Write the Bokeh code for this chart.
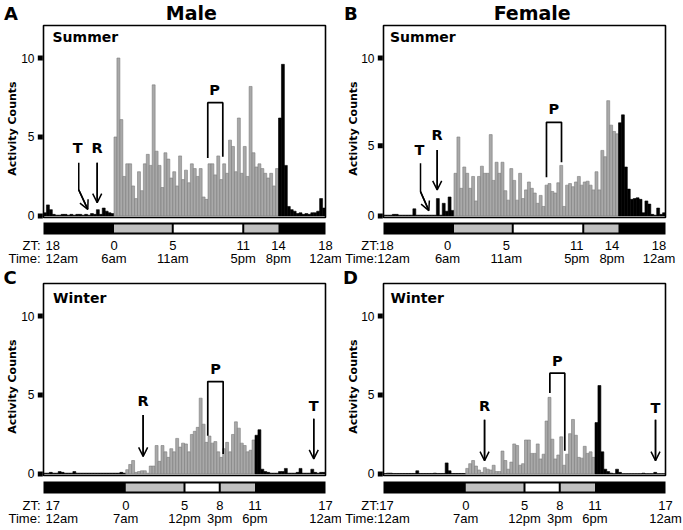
import math
from bokeh.plotting import figure
from bokeh.layouts import column, row
from bokeh.models import Range1d, Arrow, OpenHead, ColumnDataSource
from bokeh.embed import file_html
from bokeh.resources import INLINE
from bokeh.core.properties import value

# ---------------- data (15-min bins, activity counts) ----------------
BIN = 0.25

# A: male, summer (ZT -6 .. 18)
a_night = [0.2, 0.7, 0.4, 0.1, 0.05, 0.05, 0.1, 0.1, 0.05, 0.1, 0.05, 0.1, 0.1, 0.05, 0.1, 0.05,
           0.15, 0.1, 0.4, 0.1, 0.5, 0.3, 0.2, 0.15]
a_day = [5.0, 10.0, 6.1, 2.5, 3.3, 3.3, 1.9, 1.1, 2.8, 1.6, 3.3, 3.9, 3.2, 8.3, 4.1, 3.2, 1.8, 4.0,
         3.6, 2.4, 2.8, 1.9, 3.8, 2.3, 2.9, 2.1, 3.3, 3.0, 2.5, 3.0, 1.2, 1.05, 3.3, 3.3, 2.6, 3.8,
         2.3, 3.3, 2.7, 4.8, 4.4, 2.8, 6.2, 2.7, 4.4, 2.5, 8.2, 4.0, 3.1, 3.3, 3.0, 2.7, 2.4, 2.7,
         1.9, 3.0]
a_eve = [6.2, 9.6, 3.2, 0.6, 0.4, 0.3, 0.15, 0.2, 0.1, 0.15, 0.1, 0.2, 0.2, 0.3, 1.1, 0.5]

# B: female, summer (ZT -6 .. 18)
b_night = [0.05, 0.05, 0.05, 0.1, 0.1, 0.05, 0.05, 0.05, 0.05, 0.05, 0.45, 0.05, 0.05, 0.05, 0.05,
           0.05, 0.05, 0.05, 1.1, 0.05, 0.8, 0.3, 1.2, 0.35]
b_day = [2.7, 5.0, 1.75, 3.1, 2.7, 1.75, 2.5, 0.95, 2.5, 3.15, 2.7, 2.7, 5.15, 2.25, 3.4, 2.7, 3.4,
         1.6, 1.0, 3.0, 2.25, 1.0, 2.7, 1.1, 1.65, 2.15, 1.75, 1.45, 0.8, 1.3, 0.6, 1.95, 2.05,
         1.55, 1.45, 2.1, 3.2, 0.6, 1.95, 2.05, 1.85, 2.15, 2.5, 1.95, 2.15, 2.2, 1.95, 1.65, 2.8,
         1.65, 4.15, 3.75, 7.3, 5.75, 5.35, 5.2]
b_eve = [5.9, 6.4, 3.1, 1.7, 1.05, 1.1, 1.15, 1.05, 0.2, 0.95, 0.75, 0.1, 0.05, 0.5, 0.1, 0.2]

# C: male, winter (ZT -7 .. 17)
c_night = [0.05, 0.05, 0.1, 0.05, 0.05, 0.15, 0.1, 0.05, 0.05, 0.05, 0.15, 0.05, 0.05, 0.05, 0.05,
           0.05, 0.05, 0.05, 0.05, 0.05, 0.05, 0.05, 0.05, 0.05, 0.05, 0.05, 0.1, 0.05]
c_day = [0.27, 0.6, 0.85, 0.1, 0.15, 0.2, 0.2, 0.05, 0.5, 0.5, 1.8, 0.8, 1.8, 1.4, 1.05, 1.6, 1.4,
         2.25, 1.7, 1.95, 1.9, 1.4, 2.5, 2.7, 2.95, 4.8, 3.15, 2.0, 2.4, 1.95, 2.05, 1.4, 1.05,
         1.6, 2.0, 1.4, 2.5, 3.3, 2.9, 1.95, 1.8, 1.4, 1.5, 2.15]
c_eve = [2.45, 2.8, 0.3, 0.15, 0.1, 0.05, 0.05, 0.05, 0.15, 0.15, 0.35, 0.05, 0.05, 0.05, 0.1, 0.35,
         0.05, 0.05, 0.05, 0.3, 0.1, 0.05, 0.1, 0.1]

# D: female, winter (ZT -7 .. 17)
d_night = [0.03, 0.05, 0.05, 0.03, 0.03, 0.03, 0.03, 0.03, 0.03, 0.03, 0.03, 0.2, 0.03, 0.03, 0.03,
           0.03, 0.03, 0.05, 0.03, 0.03, 0.03, 0.7, 0.2, 0.03, 0.03, 0.03, 0.03, 0.03]
d_day = [0.35, 0.65, 0.85, 0.5, 0.25, 0.1, 0.4, 0.3, 0.25, 0.55, 0.15, 0.15, 1.45, 0.85, 0.3, 0.75,
         1.9, 1.8, 0.55, 0.65, 2.15, 2.15, 1.3, 1.3, 1.9, 0.95, 1.25, 3.35, 4.85, 2.2, 0.95, 1.2,
         2.35, 0.55, 1.25, 2.55, 3.45, 2.45, 1.05, 1.0, 1.75, 1.3, 1.4, 1.05]
d_eve = [3.25, 5.6, 1.4, 0.3, 0.15, 0.05, 0.02, 0.3, 0.1, 0.02, 0.02, 0.02, 0.02, 0.02, 0.02, 0.02,
         0.05, 0.02, 0.02, 0.02, 0.1, 0.02, 0.02, 0.02]

# light schedule strips (ZT)
summer_seg_start = [0, 5, 11]
summer_seg_end = [5, 11, 14]
winter_seg_start = [0, 5, 8]
winter_seg_end = [5, 8, 11]
seg_kind = ["twilight", "light", "twilight"]

# tick labels
y_ticks = [0, 5, 10]
y_tick_labels = ["0", "5", "10"]
summer_zt = [-6, 0, 5, 11, 14, 18]
summer_zt_labels = ["18", "0", "5", "11", "14", "18"]
summer_time_labels = ["12am", "6am", "11am", "5pm", "8pm", "12am"]
winter_zt = [-7, 0, 5, 8, 11, 17]
winter_zt_labels = ["17", "0", "5", "8", "11", "17"]
winter_time_labels = ["12am", "7am", "12pm", "3pm", "6pm", "12am"]

# ---------------- styles ----------------
PPH = 282 / 24.0            # pixels per hour
PPU = 15.8                  # pixels per count
Y0, Y1 = -0.1, 12.06        # box limits (counts)
GRAY = "#a9a9a9"
GRAYLINE = "#7c7c7c"
STRIPGRAY = "#c0c0c0"
SANS = "Liberation Sans"
BOLD = "DejaVu Sans"


def make_panel(cfg, night, day, eve, seg_s, seg_e, zt, ztl, tml):
    W, H = cfg["w"], 265
    bl, bt = cfg["box_left"], cfg["box_top"]          # box position in panel pixels
    br, bb = bl + 282, bt + 192
    xmin, xmax = cfg["xmin"], cfg["xmax"]
    px = lambda d: d / PPH          # pixel distance -> hours
    py = lambda d: d / PPU          # pixel distance -> counts

    p = figure(width=W, height=H,
               x_range=Range1d(xmin - px(bl), xmax + px(W - br)),
               y_range=Range1d(Y0 - py(H - bb), Y1 + py(bt)),
               x_axis_location=None, y_axis_location=None, toolbar_location=None,
               output_backend="svg", tools="", min_border_left=0, min_border_right=0,
               min_border_top=0, min_border_bottom=0, outline_line_color=None)
    p.grid.visible = False

    def txt(x, y, t, font=SANS, size="13px", bold=False, align="center", angle=0.0):
        p.text(x=x, y=y, text=t, text_font=value(font), text_font_size=size,
               text_font_style="bold" if bold else "normal", text_align=align,
               text_baseline="middle", text_color="black", angle=angle)

    # bars
    vals = night + day + eve
    xs = [xmin + (i + 0.5) * BIN for i in range(len(vals))]
    fills = ["black"] * len(night) + [GRAY] * len(day) + ["black"] * len(eve)
    lines = ["black"] * len(night) + [GRAYLINE] * len(day) + ["black"] * len(eve)
    src = ColumnDataSource(dict(x=xs, top=vals, fill=fills, line=lines))
    p.vbar(x="x", top="top", bottom=0, width=BIN, fill_color="fill", line_color="line",
           line_width=0.6, source=src)
    # box
    p.quad(left=[xmin], right=[xmax], bottom=[Y0], top=[Y1], fill_color=None,
           line_color="black", line_width=1.6)

    # y ticks (square marks), tick labels, axis title
    yt = cfg.get("y_tick_pos", y_ticks)
    p.scatter(x=[xmin - px(3.2)] * len(yt), y=yt, marker="square", size=5,
              fill_color="black", line_color="black", line_width=0)
    txt([xmin - px(9)] * len(yt), yt, y_tick_labels, size="12px", align="right")
    txt([xmin - px(bl - 12)], [Y0 + py(89)], ["Activity Counts"], font=BOLD, size="11px",
        bold=True, angle=math.pi / 2)

    # header: panel letter and sex (cap centres given in panel pixels)
    txt([xmin + px(cfg["letter_px"] - bl)], [Y1 + py(bt - cfg["letter_c"])],
        [cfg["letter"]], font=BOLD, size="18px", bold=True, align="left")
    if cfg["title"]:
        txt([xmin + px(cfg["title_px"] - bl)], [Y1 + py(bt - cfg["letter_c"] - 0.3)],
            [cfg["title"]], font=BOLD, size="19px", bold=True)

    # season, arrows, letters, bracket
    txt([xmin + px(cfg["season_px"])], [cfg["season_y"]], [cfg["season"]], font=BOLD,
        size="14px", bold=True, align="left")
    for (lx, ly, lt) in cfg["letters"]:
        txt([lx], [ly], [lt], font=BOLD, size="14.5px", bold=True)
    for path in cfg["arrows"]:
        ax_ = [q[0] for q in path]
        ay_ = [q[1] for q in path]
        p.line(ax_, ay_, line_color="black", line_width=1.5)
        p.add_layout(Arrow(end=OpenHead(size=9, line_width=1.5, line_color="black"),
                           x_start=ax_[-2], y_start=ay_[-2], x_end=ax_[-1], y_end=ay_[-1],
                           line_width=1.5, line_color="black"))
    kl, kr, kt, klb, krb = cfg["bracket"]
    p.line([kl, kl, kr, kr], [klb, kt, kt, krb], line_color="black", line_width=1.7)

    # light strip
    sd = cfg["strip_d"]
    p.quad(left=[xmin], right=[xmax], top=[Y0 - py(sd)], bottom=[Y0 - py(sd + 12)],
           fill_color="black", line_color=None)
    g = px(1.0)
    ls, rs, cs = [], [], []
    for i, (s, e) in enumerate(zip(seg_s, seg_e)):
        l_in = g if i > 0 and seg_e[i - 1] == s else 0
        r_in = g if i < len(seg_s) - 1 and seg_s[i + 1] == e else 0
        ls.append(s + l_in)
        rs.append(e - r_in)
        cs.append(STRIPGRAY if seg_kind[i] == "twilight" else "white")
    p.quad(left=ls, right=rs, top=[Y0 - py(sd + 2)] * len(ls),
           bottom=[Y0 - py(sd + 10)] * len(ls), fill_color=cs, line_color=None)

    # ZT / clock labels
    zy, ty = Y0 - py(cfg["zt_d"]), Y0 - py(cfg["tm_d"])
    if cfg["first_mode"] == "split":
        txt([zt[0] + px(2)] * 2, [zy, ty], [ztl[0], tml[0]], align="left")
        txt([zt[0] - px(3)] * 2, [zy, ty], ["ZT:", "Time:"], align="right")
    else:
        txt([zt[0] - px(6)] * 2, [zy, ty], ["ZT:" + ztl[0], "Time:" + tml[0]])
    dx = cfg["label_dx"]
    txt([v + dx for v in zt[1:]], [zy] * (len(zt) - 1), ztl[1:])
    txt([v + dx for v in zt[1:]], [ty] * (len(zt) - 1), tml[1:])
    return p


cfgA = dict(w=341, box_left=43, box_top=25, xmin=-6, xmax=18, letter="A", title="Male",
            letter_px=3.5, letter_c=12.7, title_px=190.8, season="Summer", season_px=9,
            season_y=11.32, strip_d=5, zt_d=28, tm_d=41, first_mode="split", label_dx=0.0,
            arrows=[[(-3.0, 3.37), (-3.0, 1.65), (-2.23, 0.42)], [(-1.43, 3.37), (-1.43, 0.84)]],
            letters=[(-3.1, 4.3, "T"), (-1.43, 4.3, "R"), (8.55, 7.97, "P")],
            bracket=(7.98, 9.26, 7.17, 3.67, 3.75))
cfgB = dict(w=342, box_left=42, box_top=25, xmin=-6, xmax=18, letter="B", title="Female",
            letter_px=2.5, letter_c=12.7, title_px=190.7, season="Summer", season_px=6.5,
            season_y=11.32, strip_d=5, zt_d=28, tm_d=41, first_mode="joined", label_dx=-0.55,
            y_tick_pos=[0, 4.45, 10],
            arrows=[[(-2.85, 3.33), (-2.85, 1.54), (-2.14, 0.34)], [(-1.43, 4.18), (-1.43, 1.65)]],
            letters=[(-2.94, 4.18, "T"), (-1.43, 5.13, "R"), (8.5, 6.8, "P")],
            bracket=(7.87, 9.15, 5.93, 2.45, 3.4))
cfgC = dict(w=341, box_left=43, box_top=18, xmin=-7, xmax=17, letter="C", title=None,
            letter_px=3.0, letter_c=11.7, title_px=0, season="Winter", season_px=9.5,
            season_y=11.17, strip_d=6, zt_d=30, tm_d=43, first_mode="split", label_dx=0.0,
            arrows=[[(1.48, 3.73), (1.48, 1.11)], [(16.0, 3.5), (16.0, 0.95)]],
            letters=[(1.48, 4.63, "R"), (16.0, 4.31, "T"), (7.64, 6.63, "P")],
            bracket=(6.98, 8.29, 5.85, 2.42, 1.26))
cfgD = dict(w=342, box_left=42, box_top=18, xmin=-7, xmax=17, letter="D", title=None,
            letter_px=1.5, letter_c=11.7, title_px=0, season="Winter", season_px=7,
            season_y=11.17, strip_d=6, zt_d=30, tm_d=43, first_mode="joined", label_dx=0.0,
            arrows=[[(1.6, 3.43), (1.6, 0.84)], [(16.15, 3.43), (16.15, 0.84)]],
            letters=[(1.6, 4.31, "R"), (16.15, 4.2, "T"), (7.8, 7.16, "P")],
            bracket=(7.16, 8.43, 6.38, 5.12, 1.47))

pA = make_panel(cfgA, a_night, a_day, a_eve, summer_seg_start, summer_seg_end,
                summer_zt, summer_zt_labels, summer_time_labels)
pB = make_panel(cfgB, b_night, b_day, b_eve, summer_seg_start, summer_seg_end,
                summer_zt, summer_zt_labels, summer_time_labels)
pC = make_panel(cfgC, c_night, c_day, c_eve, winter_seg_start, winter_seg_end,
                winter_zt, winter_zt_labels, winter_time_labels)
pD = make_panel(cfgD, d_night, d_day, d_eve, winter_seg_start, winter_seg_end,
                winter_zt, winter_zt_labels, winter_time_labels)

root = column(row(pA, pB, spacing=0), row(pC, pD, spacing=0), spacing=0)

open("out.html", "w").write(file_html(root, INLINE))
